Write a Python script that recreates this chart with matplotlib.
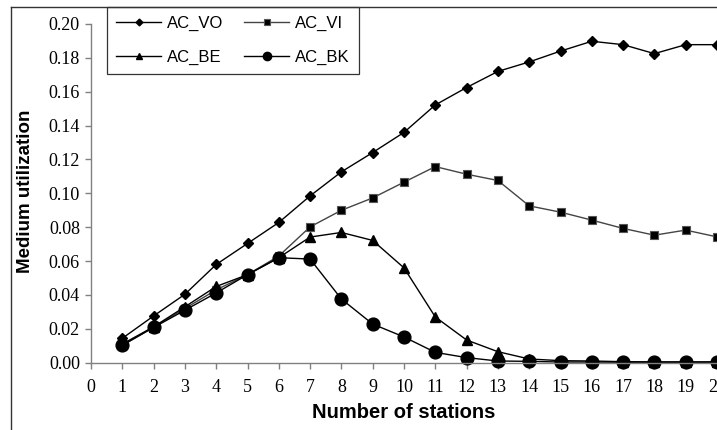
import matplotlib
matplotlib.use("Agg")
import matplotlib.pyplot as plt
from matplotlib.lines import Line2D

stations = list(range(1, 21))

ac_vo = [0.0144, 0.0276, 0.0404, 0.0580, 0.0704, 0.0828, 0.0985, 0.1127, 0.1241, 0.1360,
         0.1522, 0.1625, 0.1720, 0.1776, 0.1840, 0.1898, 0.1878, 0.1825, 0.1878, 0.1878]
ac_vi = [0.0102, 0.0210, 0.0320, 0.0430, 0.0520, 0.0630, 0.0802, 0.0900, 0.0973, 0.1066,
         0.1158, 0.1113, 0.1076, 0.0926, 0.0889, 0.0842, 0.0793, 0.0753, 0.0783, 0.0743]
ac_be = [0.0110, 0.0212, 0.0330, 0.0450, 0.0520, 0.0620, 0.0742, 0.0769, 0.0722, 0.0560,
         0.0270, 0.0134, 0.0065, 0.0022, 0.0012, 0.0010, 0.0006, 0.0005, 0.0005, 0.0005]
ac_bk = [0.0103, 0.0208, 0.0310, 0.0412, 0.0520, 0.0620, 0.0612, 0.0376, 0.0228, 0.0152,
         0.0061, 0.0030, 0.0010, 0.0008, 0.0004, 0.0004, 0.0003, 0.0003, 0.0003, 0.0003]

W, H = 717, 430
fig = plt.figure(figsize=(W / 100, H / 100), dpi=100)
ax = fig.add_axes([91 / W, 1 - 362.7 / H, (717 - 91) / W, (362.7 - 24) / H])

l_vo, = ax.plot(stations, ac_vo, color="black", lw=1.0, marker="D", ms=5.3,
                mfc="black", mec="black", label="AC_VO", clip_on=False)
l_vi, = ax.plot(stations, ac_vi, color="#444444", lw=1.0, marker="s", ms=6.2,
                mfc="black", mec="#555555", mew=0.8, label="AC_VI", clip_on=False)
l_be, = ax.plot(stations, ac_be, color="black", lw=1.0, marker="^", ms=7.5,
                mfc="black", mec="black", label="AC_BE", clip_on=False)
l_bk, = ax.plot(stations, ac_bk, color="black", lw=1.0, marker="o", ms=9.2,
                mfc="black", mec="black", label="AC_BK", clip_on=False)

ax.set_xlim(0, 20)
ax.set_ylim(0, 0.20)
ax.set_xticks(range(0, 21))
ax.set_yticks([i * 0.02 for i in range(11)])
ax.set_yticklabels(["%.2f" % (i * 0.02) for i in range(11)])

for s in ["top", "right"]:
    ax.spines[s].set_visible(False)
for s in ["left", "bottom"]:
    ax.spines[s].set_color("#808080")
    ax.spines[s].set_linewidth(1.0)

ax.tick_params(axis="both", colors="#808080", length=4, width=1.0, labelcolor="black",
               labelsize=13, labelfontfamily="Liberation Serif")
ax.tick_params(axis="x", pad=8)
ax.tick_params(axis="y", pad=4)

ax.set_xlabel("Number of stations", fontfamily="Liberation Sans", fontweight="bold",
              fontsize=14.5, labelpad=5)
fig.text(26 / W, 1 - 191 / H, "Medium utilization", rotation=90, ha="center", va="center",
         fontfamily="Liberation Sans", fontweight="bold", fontsize=13.5)

# row-wise legend order: VO, VI / BE, BK
leg = ax.legend([l_vo, l_be, l_vi, l_bk], ["AC_VO", "AC_BE", "AC_VI", "AC_BK"],
                loc="upper left", bbox_to_anchor=(107 / W, 1 - 7 / H),
                bbox_transform=fig.transFigure, ncol=2, frameon=True, fancybox=False,
                prop={"family": "Liberation Sans", "size": 12}, markerscale=0.65,
                handlelength=2.7, handletextpad=0.35, columnspacing=1.25,
                labelspacing=1.1, borderpad=0.55, borderaxespad=0)
leg.get_frame().set_edgecolor("black")
leg.get_frame().set_linewidth(0.9)

# outer chart border (cropped)
fig.add_artist(Line2D([11 / W, 11 / W], [0, 1 - 7 / H], transform=fig.transFigure,
                      color="#333333", lw=1.0))
fig.add_artist(Line2D([11 / W, 1], [1 - 7 / H, 1 - 7 / H], transform=fig.transFigure,
                      color="#333333", lw=1.0))

fig.savefig("out.png", dpi=100)
